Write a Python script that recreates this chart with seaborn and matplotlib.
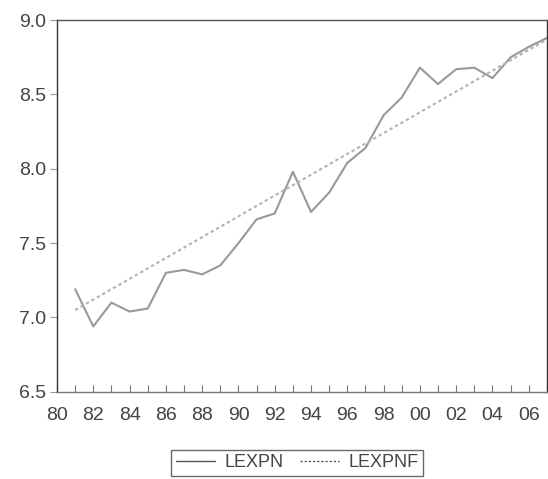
import matplotlib
matplotlib.use("Agg")
import matplotlib.pyplot as plt
import seaborn as sns
import pandas as pd

years = list(range(1981, 2008))
lexpn = [7.19, 6.94, 7.10, 7.04, 7.06, 7.30, 7.32, 7.29, 7.35, 7.50,
         7.66, 7.70, 7.98, 7.71, 7.84, 8.04, 8.14, 8.36, 8.48, 8.68,
         8.57, 8.67, 8.68, 8.61, 8.75, 8.82, 8.88]
lexpnf = [7.05, 7.12, 7.19, 7.26, 7.33, 7.40, 7.47, 7.54, 7.61, 7.68,
          7.75, 7.82, 7.89, 7.96, 8.03, 8.10, 8.17, 8.24, 8.31, 8.38,
          8.45, 8.52, 8.59, 8.66, 8.73, 8.80, 8.87]
xtick_vals = list(range(1980, 2007, 2))
xtick_labels = [f"{y % 100:02d}" for y in xtick_vals]
ytick_vals = [6.5, 7.0, 7.5, 8.0, 8.5, 9.0]

sns.set_style("white")
plt.rcParams["font.family"] = ["Liberation Sans", "DejaVu Sans"]

df = pd.DataFrame({"year": years, "LEXPN": lexpn, "LEXPNF": lexpnf})

fig = plt.figure(figsize=(5.48, 4.79), dpi=100)
ax = fig.add_axes([0.104, 0.182, 0.894, 0.776])

sns.lineplot(data=df, x="year", y="LEXPN", ax=ax, color="#999999",
             linewidth=1.5, label="LEXPN")
sns.lineplot(data=df, x="year", y="LEXPNF", ax=ax, color="#b3b3b3",
             linewidth=1.5, linestyle=(0, (1.6, 1.4)), label="LEXPNF")

ax.set_xlim(1980, 2007)
ax.set_ylim(6.5, 9.0)
ax.set_xticks(xtick_vals)
ax.set_xticklabels(xtick_labels)
ax.set_xticks(years, minor=True)
ax.set_yticks(ytick_vals)
ax.set_yticklabels([f"{v:.1f}" for v in ytick_vals])
ax.set_xlabel("")
ax.set_ylabel("")

ax.tick_params(axis="x", which="both", direction="in", length=5,
               width=0.8, color="#777777", labelsize=14,
               labelcolor="#444444", pad=11, bottom=True)
ax.tick_params(axis="y", direction="out", length=5, width=0.8,
               color="#999999", labelsize=14, labelcolor="#444444",
               pad=3, left=True)

for side in ["left", "top", "right", "bottom"]:
    ax.spines[side].set_visible(True)
ax.spines["left"].set_color("#333333")
ax.spines["top"].set_color("#555555")
ax.spines["right"].set_color("#333333")
ax.spines["bottom"].set_color("#777777")
for s in ax.spines.values():
    s.set_linewidth(1.0)

leg = ax.legend(loc="upper center", bbox_to_anchor=(0.49, -0.132), ncol=2,
                frameon=True, fancybox=False, fontsize=13, handlelength=2.2,
                columnspacing=0.9, handletextpad=0.5, borderpad=0.25,
                labelcolor="#444444")
leg.get_frame().set_edgecolor("#444444")
leg.get_frame().set_linewidth(1.0)
for line in leg.get_lines():
    line.set_color("#555555")
    line.set_linewidth(1.0)

fig.savefig("out.png", dpi=100)
